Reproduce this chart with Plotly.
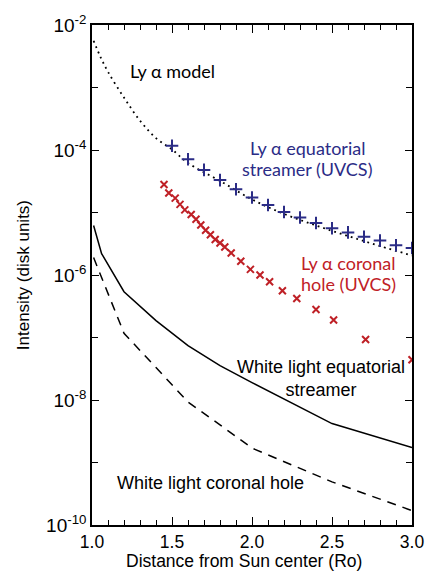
import plotly.graph_objects as go

# ---- data ----
model_x = [1.01, 1.05, 1.1, 1.2, 1.3, 1.4, 1.5, 1.6, 1.8, 2.0, 2.2, 2.4, 2.6, 2.8, 3.0]
model_y = [5.6e-3, 3.2e-3, 1.78e-3, 6.9e-4, 2.95e-4, 1.55e-4, 1.02e-4, 6.2e-5, 3.2e-5,
           1.62e-5, 9.5e-6, 6.2e-6, 4.2e-6, 2.9e-6, 2.05e-6]

eq_x = [1.5, 1.6, 1.7, 1.8, 1.9, 2.0, 2.1, 2.2, 2.3, 2.4, 2.5, 2.6, 2.7, 2.8, 2.9, 3.0]
eq_y = [1.17e-4, 7.1e-5, 4.8e-5, 3.3e-5, 2.35e-5, 1.74e-5, 1.32e-5, 1.02e-5, 8.3e-6,
        6.8e-6, 5.6e-6, 4.8e-6, 4.1e-6, 3.55e-6, 3.0e-6, 2.7e-6]

ch_x = [1.45, 1.48, 1.52, 1.55, 1.58, 1.62, 1.65, 1.68, 1.71, 1.74, 1.77, 1.80, 1.83,
        1.87, 1.93, 1.99, 2.05, 2.11, 2.19, 2.28, 2.40, 2.51, 2.71, 3.00]
ch_y = [2.8e-5, 2.05e-5, 1.7e-5, 1.35e-5, 1.1e-5, 9.3e-6, 7.8e-6, 6.3e-6, 5.2e-6, 4.4e-6,
        3.7e-6, 3.25e-6, 2.8e-6, 2.25e-6, 1.66e-6, 1.23e-6, 1.0e-6, 7.8e-7, 5.6e-7, 4.2e-7,
        2.8e-7, 1.9e-7, 9.3e-8, 4.4e-8]

wl_eq_x = [1.01, 1.06, 1.2, 1.4, 1.6, 1.8, 2.0, 2.5, 3.0]
wl_eq_y = [6.2e-6, 2.2e-6, 5.4e-7, 1.86e-7, 7.4e-8, 3.55e-8, 1.9e-8, 4.2e-9, 1.74e-9]

wl_ch_x = [1.01, 1.2, 1.4, 1.6, 1.8, 2.0, 2.5, 3.0]
wl_ch_y = [1.9e-6, 1.17e-7, 3.3e-8, 9.3e-9, 4.0e-9, 1.7e-9, 4.9e-10, 1.7e-10]

x_ticks = [1.0, 1.5, 2.0, 2.5, 3.0]
x_tick_text = ["1.0", "1.5", "2.0", "2.5", "3.0"]
y_major = [1e-10, 1e-8, 1e-6, 1e-4, 1e-2]
y_major_text = ["10<sup>-10</sup>", "10<sup>-8</sup>", "10<sup>-6</sup>",
                "10<sup>-4</sup>", "10<sup>-2</sup>"]
y_minor = [1e-9, 1e-7, 1e-5, 1e-3]

BLUE = "#2b2c86"
RED = "#bf2026"
FONT = "Liberation Sans, Arial, sans-serif"
LYFONT = "Lato, sans-serif"

fig = go.Figure()
fig.add_trace(go.Scatter(x=model_x, y=model_y, mode="lines", line_shape="spline",
                         line=dict(color="black", width=1.8, dash="1.8px,4px")))
fig.add_trace(go.Scatter(x=wl_eq_x, y=wl_eq_y, mode="lines",
                         line=dict(color="black", width=1.5)))
fig.add_trace(go.Scatter(x=wl_ch_x, y=wl_ch_y, mode="lines",
                         line=dict(color="black", width=1.5, dash="9px,7px")))
fig.add_trace(go.Scatter(x=eq_x, y=eq_y, mode="markers", cliponaxis=True,
                         marker=dict(symbol="cross-thin", size=9,
                                     line=dict(color=BLUE, width=2))))
fig.add_trace(go.Scatter(x=ch_x, y=ch_y, mode="markers", cliponaxis=True,
                         marker=dict(symbol="x-thin", size=7,
                                     line=dict(color=RED, width=2))))

fig.update_layout(
    width=436, height=575,
    margin=dict(l=92, r=16, t=15, b=50),
    paper_bgcolor="white", plot_bgcolor="white",
    showlegend=False,
    font=dict(family=FONT, size=17, color="black"),
)
fig.update_xaxes(
    range=[1, 3], tickvals=x_ticks, ticktext=x_tick_text,
    ticks="inside", ticklen=8, tickwidth=1.2, tickcolor="black",
    showline=True, linecolor="black", linewidth=1.5, mirror="ticks",
    showgrid=False, zeroline=False,
    tickfont=dict(family=FONT, size=17.5),
    minor=dict(dtick=0.1, ticks="inside", ticklen=5, tickwidth=1.2, tickcolor="black",
               showgrid=False),
)
fig.update_yaxes(
    type="log", range=[-10, -2], tickvals=y_major, ticktext=y_major_text,
    ticks="inside", ticklen=7, tickwidth=1.2, tickcolor="black",
    showline=True, linecolor="black", linewidth=1.5, mirror="ticks",
    showgrid=False, zeroline=False,
    tickfont=dict(family=FONT, size=19),
    minor=dict(tickvals=y_minor, ticks="inside", ticklen=6, tickwidth=1.2,
               tickcolor="black", showgrid=False),
)

ann = [
    dict(text="Ly α model", x=0.25, y=0.908, font=dict(family=LYFONT, size=18, color="black")),
    dict(text="Ly α equatorial", x=0.672, y=0.755,
         font=dict(family=LYFONT, size=18, color=BLUE)),
    dict(text="streamer (UVCS)", x=0.672, y=0.713,
         font=dict(family=LYFONT, size=18, color=BLUE)),
    dict(text="Ly α coronal", x=0.801, y=0.524,
         font=dict(family=LYFONT, size=18, color=RED)),
    dict(text="hole (UVCS)", x=0.801, y=0.483,
         font=dict(family=LYFONT, size=18, color=RED)),
    dict(text="White light equatorial<br>streamer", x=0.716, y=0.294,
         font=dict(family=FONT, size=18, color="black")),
    dict(text="White light coronal hole", x=0.371, y=0.085,
         font=dict(family=FONT, size=18, color="black")),
    dict(text="Distance from Sun center (Ro)", x=0.476, y=-0.0725,
         font=dict(family=FONT, size=17.5, color="black")),
    dict(text="Intensity (disk units)", x=-0.215, y=0.5, textangle=-90,
         font=dict(family=FONT, size=17, color="black")),
]
for a in ann:
    fig.add_annotation(xref="paper", yref="paper", showarrow=False,
                       xanchor="center", yanchor="middle", **a)

fig.write_html("out.html")
